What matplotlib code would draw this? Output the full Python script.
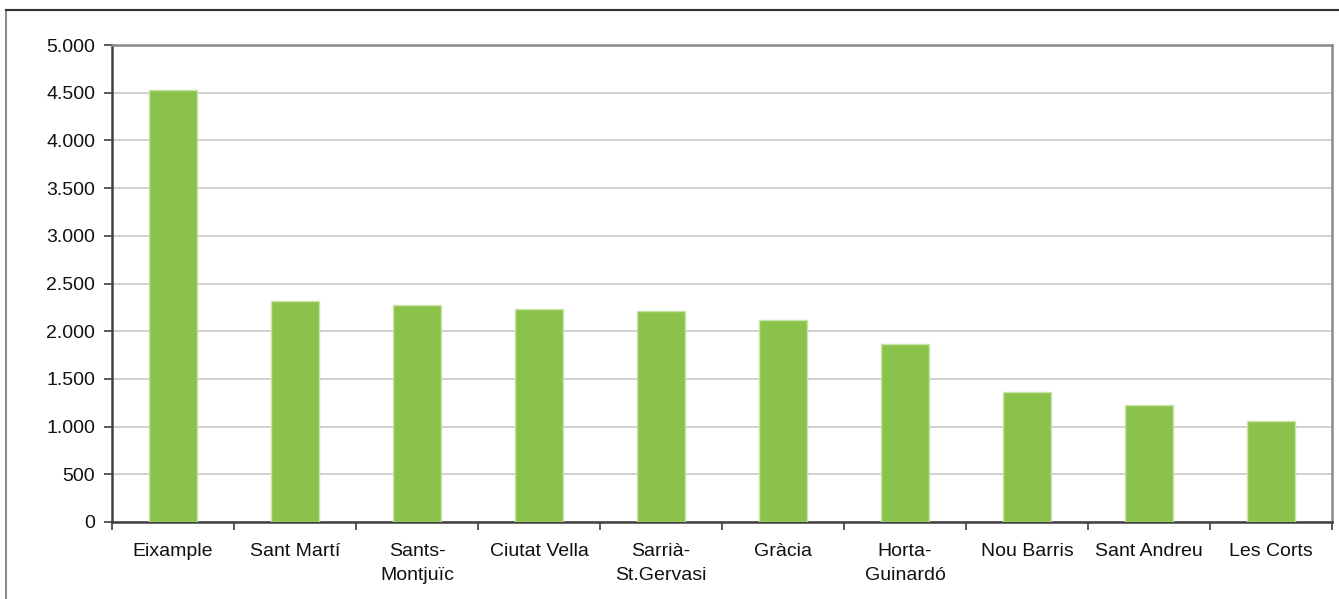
import numpy as np
import matplotlib.pyplot as plt
from matplotlib.ticker import FuncFormatter, FixedLocator
from matplotlib.patches import Rectangle

districtes = ["Eixample", "Sant Martí", "Sants-\nMontjuïc", "Ciutat Vella",
              "Sarrià-\nSt.Gervasi", "Gràcia", "Horta-\nGuinardó",
              "Nou Barris", "Sant Andreu", "Les Corts"]
valors = [4530, 2315, 2270, 2235, 2210, 2115, 1865, 1363, 1230, 1058]
yticks = [0, 500, 1000, 1500, 2000, 2500, 3000, 3500, 4000, 4500, 5000]

plt.rcParams['font.family'] = ['Liberation Sans', 'DejaVu Sans']

fig = plt.figure(figsize=(13.39, 5.99), dpi=100)

# marc exterior del grafic (retallat per dalt i per l'esquerra)
fig.patches.append(Rectangle((6.5 / 1339, -0.1), 1.2, 1 - 9.5 / 599 + 0.1,
                             transform=fig.transFigure, fill=False,
                             edgecolor="#8a8a8a", linewidth=1.5))
fig.add_artist(plt.Line2D([6.5 / 1339, 1], [1 - 9.5 / 599] * 2,
                          transform=fig.transFigure, color="#333333", linewidth=1.5))

ax = fig.add_axes([112 / 1339, 1 - 522 / 599, (1332 - 112) / 1339, (522 - 45) / 599])

x = np.arange(len(districtes))
ax.bar(x, valors, width=0.4, color="#8BC24C", edgecolor="#C9E3A8", linewidth=1, zorder=3)

ax.set_xlim(-0.5, len(districtes) - 0.5)
ax.set_ylim(0, 5000)
ax.set_yticks(yticks)
ax.yaxis.set_major_formatter(FuncFormatter(lambda v, p: f"{int(v):,}".replace(",", ".")))
ax.grid(axis="y", color="#c8c8c8", linewidth=1.2, zorder=0)

ax.set_xticks(x)
ax.set_xticklabels(districtes, fontsize=14, linespacing=1.55, color="#111111")
ax.xaxis.set_minor_locator(FixedLocator(np.arange(-0.5, len(districtes), 1)))
ax.tick_params(axis="x", which="major", length=0, pad=15)
ax.tick_params(axis="x", which="minor", length=6, width=1.2, color="#404040", direction="out")
ax.tick_params(axis="y", labelsize=14, labelcolor="#111111", length=6, width=1.2,
               color="#404040", pad=6)

for s in ["left", "bottom"]:
    ax.spines[s].set_color("#404040")
    ax.spines[s].set_linewidth(1.8)
for s in ["top", "right"]:
    ax.spines[s].set_color("#8a8a8a")
    ax.spines[s].set_linewidth(1.8)

fig.savefig("out.png", dpi=100)
